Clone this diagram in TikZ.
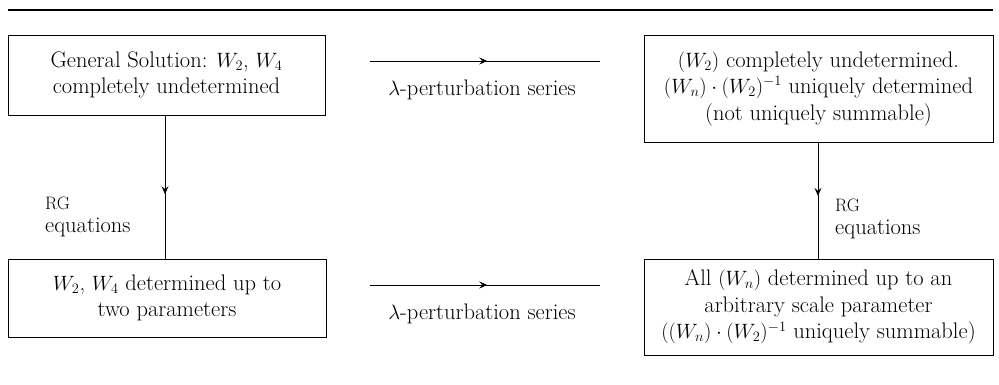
\documentclass[tikz,border=0pt]{standalone}
\usetikzlibrary{arrows.meta,decorations.markings}
\begin{document}
\begin{tikzpicture}[x=1pt,y=-1pt,
  every node/.style={font=\fontsize{22.5}{26.5}\selectfont},
  box/.style={draw,line width=0.9pt,align=center,inner sep=0pt,anchor=center},
  conn/.style={line width=0.9pt},
  midarrow/.style={postaction={decorate},decoration={markings,mark=at position #1 with {\arrow{Stealth[length=8pt,width=7pt,inset=3pt]}}}},
  lbl/.style={align=left,anchor=north west,inner sep=0pt}
]
\useasboundingbox (0,0) rectangle (999,384);
\coordinate (r1) at (8,10);
\coordinate (r2) at (993,10);
\draw[line width=2.2pt] (r1) -- (r2);

\node[box,minimum width=317pt,minimum height=80pt] (b1) at (166.5,75)
  {General Solution: $W_2$, $W_4$\\ completely undetermined};
\node[box,minimum width=349pt,minimum height=107pt] (b2) at (818.5,88.5)
  {$(W_2)$ completely undetermined.\\ $(W_n)\cdot(W_2)^{-1}$ uniquely determined\\ (not uniquely summable)};
\node[box,minimum width=318pt,minimum height=78pt] (b3) at (167,298)
  {$W_2$, $W_4$ determined up to\\ two parameters};
\node[box,minimum width=349pt,minimum height=96pt] (b4) at (818.5,307)
  {All $(W_n)$ determined up to an\\ arbitrary scale parameter\\ $((W_n)\cdot(W_2)^{-1}$ uniquely summable)};

% horizontal arrows
\coordinate (h1a) at (370,61);
\coordinate (h1b) at (600,61);
\draw[conn,midarrow=0.51] (h1a) -- (h1b);
\node (l1) at (482,90) {$\lambda$-perturbation series};
\coordinate (h2a) at (370,285);
\coordinate (h2b) at (600,285);
\draw[conn,midarrow=0.51] (h2a) -- (h2b);
\node (l2) at (482,314) {$\lambda$-perturbation series};

% vertical arrows
\draw[conn,midarrow=0.55] (b1.south -| 165,0) -- (b3.north -| 165,0);
\draw[conn,midarrow=0.46] (b2.south -| 818,0) -- (b4.north -| 818,0);

\node[lbl] (rg1) at (45,197) {{\fontsize{18}{16}\selectfont RG}\\[-4pt] equations};
\node[lbl] (rg2) at (835,199) {{\fontsize{18}{16}\selectfont RG}\\[-4pt] equations};
\end{tikzpicture}
\end{document}
